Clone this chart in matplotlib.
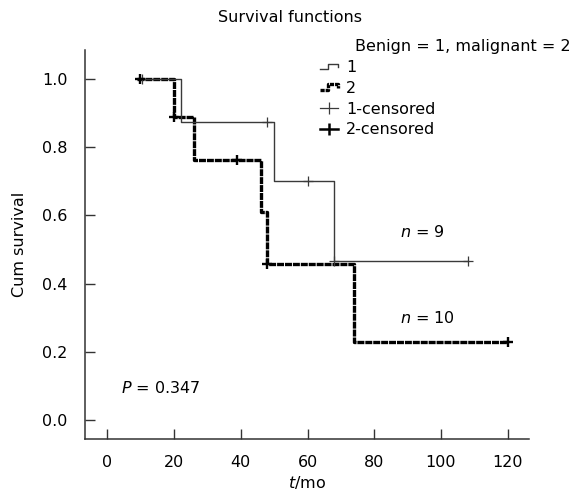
import matplotlib
matplotlib.use("Agg")
import matplotlib.pyplot as plt
from matplotlib.lines import Line2D
from matplotlib.legend_handler import HandlerBase

plt.rcParams['font.family'] = ['DejaVu Sans']
plt.rcParams['lines.scale_dashes'] = False

# ---- data ----
g1_times = [10, 22, 50, 68, 108]
g1_surv = [1.0, 0.875, 0.70, 0.467, 0.467]
g2_times = [9, 20, 26, 46, 48, 74, 120]
g2_surv = [1.0, 0.889, 0.762, 0.611, 0.458, 0.229, 0.229]

g1_cens_t = [10.3, 48, 60, 68, 108]
g1_cens_s = [1.0, 0.875, 0.70, 0.467, 0.467]
g2_cens_t = [9.7, 20, 39, 48, 120]
g2_cens_s = [1.0, 0.889, 0.762, 0.458, 0.229]

x_ticks = [0, 20, 40, 60, 80, 100, 120]
y_ticks = [0.0, 0.2, 0.4, 0.6, 0.8, 1.0]
legend_labels = ['1', '2', '1-censored', '2-censored']

FS = 11.5
thin_col = '#3a3a3a'
thick_col = '#000000'

fig = plt.figure(figsize=(5.77, 4.92), dpi=100)
ax = fig.add_axes([85/577, 1-439/492, (529-85)/577, (439-50)/492])

ax.step(g2_times, g2_surv, where='post', color=thick_col, lw=2.4,
        dashes=(5, 0.7), zorder=2)
ax.step(g1_times, g1_surv, where='post', color=thin_col, lw=1.0, zorder=3)
ax.plot(g1_cens_t, g1_cens_s, ls='none', marker='+', ms=7, mew=0.9,
        color=thin_col, zorder=4)
ax.plot(g2_cens_t, g2_cens_s, ls='none', marker='+', ms=7.5, mew=1.7,
        color=thick_col, zorder=4)

ax.set_xlim(-6.7, 126.4)
ax.set_ylim(-0.056, 1.085)
ax.set_xticks(x_ticks)
ax.set_yticks(y_ticks)
ax.set_yticklabels([f'{v:.1f}' for v in y_ticks])
ax.tick_params(direction='in', length=7, width=1, colors='#333333',
               labelsize=FS, labelcolor='black')
ax.tick_params(axis='x', pad=11.5)
ax.tick_params(axis='y', pad=12.5)
for s in ['top', 'right']:
    ax.spines[s].set_visible(False)
for s in ['left', 'bottom']:
    ax.spines[s].set_color('#333333')
    ax.spines[s].set_linewidth(1.1)

ax.set_ylabel('Cum survival', fontsize=FS, labelpad=11)
ax.set_xlabel('$t$/mo', fontsize=FS, labelpad=3)

ax.text(87.7, 0.55, '$n$ = 9', fontsize=FS, va='center', ha='left')
ax.text(87.7, 0.30, '$n$ = 10', fontsize=FS, va='center', ha='left')
ax.text(4, 0.094, '$P$ = 0.347', fontsize=FS, va='center', ha='left')

fig.text(290/577, 1-17/492, 'Survival functions', fontsize=FS,
         ha='center', va='center')


class StepHandler(HandlerBase):
    def __init__(self, lw, dashes=None, color='k'):
        super().__init__()
        self.lw = lw
        self.dashes = dashes
        self.color = color

    def create_artists(self, legend, orig_handle, xdescent, ydescent,
                       width, height, fontsize, trans):
        x0 = -xdescent
        y0 = -ydescent
        xs = [x0, x0 + width*0.45, x0 + width*0.45, x0 + width, x0 + width]
        ys = [y0 + height*0.25, y0 + height*0.25, y0 + height*0.75,
              y0 + height*0.75, y0 + height*0.45]
        ln = Line2D(xs, ys, color=self.color, lw=self.lw, transform=trans)
        if self.dashes:
            ln.set_dashes(self.dashes)
        return [ln]


h1 = Line2D([], [], color=thin_col)
h2 = Line2D([], [], color=thick_col)
h3 = Line2D([], [], color=thin_col, lw=0.9, marker='|', ms=9, mew=0.9)
h4 = Line2D([], [], color=thick_col, lw=1.8, marker='|', ms=9, mew=1.8)
leg = fig.legend([h1, h2, h3, h4], legend_labels,
                 handler_map={h1: StepHandler(1.0, None, thin_col),
                              h2: StepHandler(2.4, (3, 0.7), thick_col)},
                 loc='upper left', bbox_to_anchor=(320/577, 1-60/492),
                 frameon=False, fontsize=FS, handlelength=1.1,
                 handletextpad=0.55, labelspacing=0.36, numpoints=1,
                 borderpad=0, borderaxespad=0)
fig.text(355/577, 1-47/492, 'Benign = 1, malignant = 2', fontsize=FS,
         ha='left', va='center')

fig.savefig('out.png', dpi=100)
